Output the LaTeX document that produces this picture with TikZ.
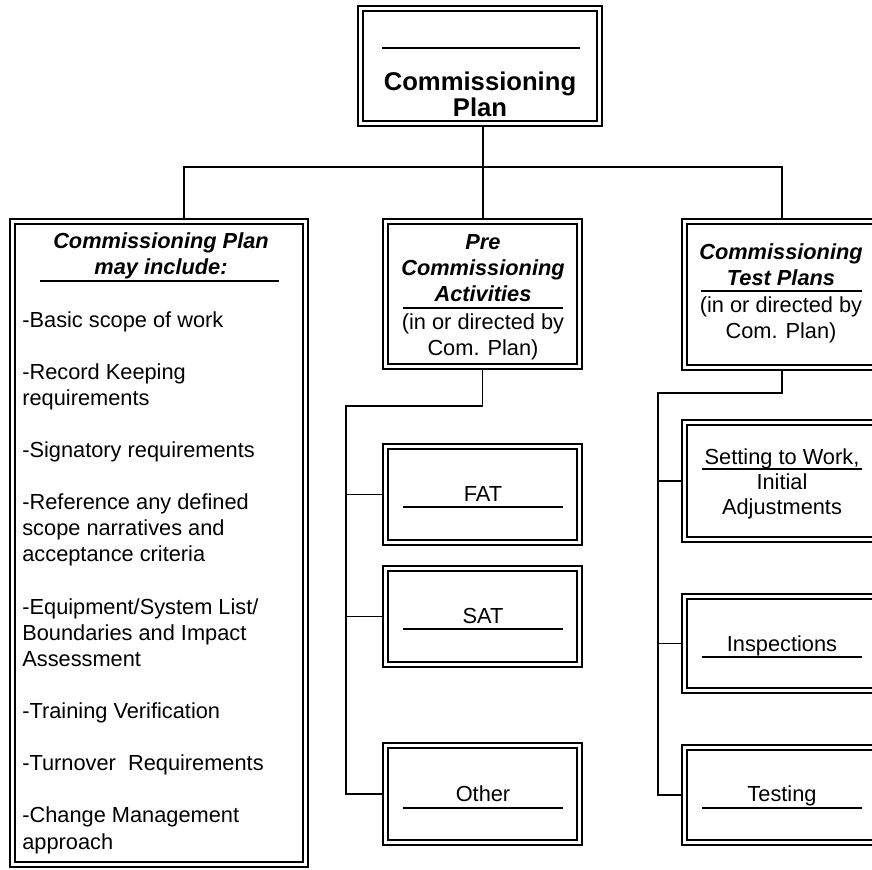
\documentclass[tikz,border=0pt]{standalone}
\usepackage{fontspec}
\setmainfont{Liberation Sans}
\usetikzlibrary{fit}

\tikzset{
  dblbox/.style={draw, line width=0.6pt, inner sep=0pt},
  dblinner/.style={line width=1.1pt},
  link/.style={line width=1pt},
  uline/.style={line width=1pt},
  bigtxt/.style={font=\fontsize{14.6}{17}\selectfont\bfseries, anchor=base, inner sep=0pt},
  hdtxt/.style={font=\fontsize{12.4}{15}\selectfont\bfseries\itshape, anchor=base, inner sep=0pt},
  txt/.style={font=\fontsize{12.4}{15}\selectfont, anchor=base, inner sep=0pt}
}

\begin{document}
\begin{tikzpicture}[x=0.02cm, y=-0.02cm]
    \useasboundingbox (0,0) rectangle (872,869);
    \clip (0,0) rectangle (872,869);

    % Boxes
    \node[dblbox, fit={(358,6) (602,126)}] (plan) {};
    \node[dblbox, fit={(10,219) (308,867)}] (incl) {};
    \node[dblbox, fit={(383,219) (582,369)}] (pre) {};
    \node[dblbox, fit={(682,219) (882,370)}] (test) {};
    \node[dblbox, fit={(383,444) (582,545)}] (fat) {};
    \node[dblbox, fit={(383,566) (582,667)}] (sat) {};
    \node[dblbox, fit={(383,743) (582,845)}] (other) {};
    \node[dblbox, fit={(682,420) (882,542)}] (setw) {};
    \node[dblbox, fit={(682,594) (882,693)}] (insp) {};
    \node[dblbox, fit={(682,745) (882,845)}] (tests) {};
    \foreach \n in {plan,incl,pre,test,fat,sat,other,setw,insp,tests}
        \draw[dblinner] ([shift={(3.1pt,-3.1pt)}]\n.north west) rectangle ([shift={(-3.1pt,3.1pt)}]\n.south east);

    % Top branch
    \coordinate (top) at (483,167);
    \coordinate (topl) at (184,167);
    \coordinate (topr) at (782,167);
    \draw[link] (top |- plan.south) -- (top);
    \draw[link] (topl |- incl.north) -- (topl) -- (topr) -- (topr |- test.north);
    \draw[link] (top) -- (top |- pre.north);

    % Pre commissioning branch
    \coordinate (mid) at (346,406);
    \draw[link] (pre.south) -- (pre.south |- mid) -- (mid) -- (mid |- other.west) -- (other.west);
    \draw[link] (mid |- fat.west) -- (fat.west);
    \draw[link] (mid |- sat.west) -- (sat.west);

    % Test plans branch
    \coordinate (rgt) at (658,393);
    \draw[link] (test.south) -- (test.south |- rgt) -- (rgt) -- (rgt |- tests.west) -- (tests.west);
    \draw[link] (rgt |- setw.west) -- (setw.west);
    \draw[link] (rgt |- insp.west) -- (insp.west);

    % Texts
    \draw[uline] (382,48) -- (580,48);
    \node[bigtxt] (plan1) at (480,90) {Commissioning};
    \node[bigtxt] (plan2) at (480,116) {Plan};

    \node[hdtxt] (incl1) at (161,248) {Commissioning Plan};
    \node[hdtxt] (incl2) at (161,274) {may include:};
    \draw[uline] (40,281) -- (279,281);
    \foreach \k/\t in {0/{-Basic scope of work}, 2/{-Record Keeping}, 3/{requirements},
        5/{-Signatory requirements}, 7/{-Reference any defined}, 8/{scope narratives and},
        9/{acceptance criteria}, 11/{-Equipment/System List/}, 12/{Boundaries and Impact},
        13/{Assessment}, 15/{-Training Verification}, 17/{-Turnover~ Requirements},
        19/{-Change Management}, 20/{approach}}
        \node[txt, anchor=base west] (item\k) at (22,{327+26.1*\k}) {\t};

    \node[hdtxt] (pre1) at (483,249) {Pre};
    \node[hdtxt] (pre2) at (483,275) {Commissioning};
    \node[hdtxt] (pre3) at (483,301) {Activities};
    \draw[uline] (403,308) -- (563,308);
    \node[txt] (pre4) at (483,329) {(in or directed by};
    \node[txt] (pre5) at (483,355) {Com. Plan)};

    \node[hdtxt] (test1) at (781,259) {Commissioning};
    \node[hdtxt] (test2) at (781,285) {Test Plans};
    \draw[uline] (701,291) -- (862,291);
    \node[txt] (test3) at (781,312) {(in or directed by};
    \node[txt] (test4) at (781,338) {Com. Plan)};

    \node[txt] (fat1) at (483,501) {FAT};
    \draw[uline] (403,507) -- (563,507);
    \node[txt] (sat1) at (483,623) {SAT};
    \draw[uline] (403,629) -- (563,629);
    \node[txt] (other1) at (483,801) {Other};
    \draw[uline] (403,808) -- (563,808);

    \node[txt] (setw1) at (782,464) {Setting to Work,};
    \draw[uline] (702,469) -- (862,469);
    \node[txt] (setw2) at (782,489) {Initial};
    \node[txt] (setw3) at (782,514) {Adjustments};
    \node[txt] (insp1) at (782,651) {Inspections};
    \draw[uline] (702,657) -- (862,657);
    \node[txt] (tests1) at (782,801) {Testing};
    \draw[uline] (702,808) -- (862,808);
\end{tikzpicture}
\end{document}
